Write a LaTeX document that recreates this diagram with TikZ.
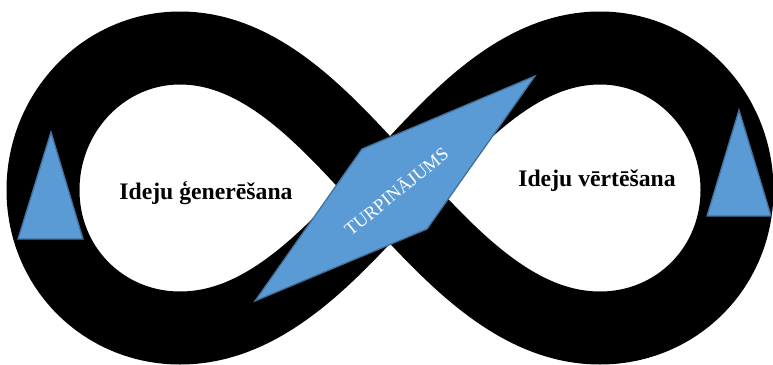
\documentclass[tikz,border=0pt]{standalone}
\usepackage{fontspec}
\setmainfont{Liberation Serif}
\definecolor{shapeblue}{HTML}{5B9BD5}
\definecolor{shapeedge}{HTML}{41719C}
\tikzset{
  band/.style={draw=black, line width=73pt, line join=round},
  blueshape/.style={fill=shapeblue, draw=shapeedge, line width=1.3pt, line join=miter},
  lobelabel/.style={font=\bfseries\fontsize{23.7}{28}\selectfont, text=black, inner sep=0pt},
  midlabel/.style={font=\fontsize{18.5}{22}\selectfont, text=white, inner sep=0pt}
}
\begin{document}
\begin{tikzpicture}[x=1pt, y=-1pt]
\useasboundingbox (0,0) rectangle (773,364);
% infinity band
\draw[band] (390,190) .. controls (450,255) and (515,328) .. (600,328)
  .. controls (676,328) and (737,268) .. (737,190)
  .. controls (737,112) and (676,48) .. (600,48)
  .. controls (515,48) and (450,125) .. (390,190)
  .. controls (330,255) and (265,328) .. (180,328)
  .. controls (104,328) and (43,268) .. (43,190)
  .. controls (43,112) and (104,48) .. (180,48)
  .. controls (265,48) and (330,125) .. cycle;
% triangles
\coordinate (lt1) at (51,132);
\coordinate (lt2) at (18,239);
\coordinate (lt3) at (83,239);
\coordinate (rt1) at (739,110);
\coordinate (rt2) at (707,216);
\coordinate (rt3) at (771,216);
\draw[blueshape] (lt1) -- (lt2) -- (lt3) -- cycle;
\draw[blueshape] (rt1) -- (rt2) -- (rt3) -- cycle;
% parallelogram
\coordinate (p1) at (255,301);
\coordinate (p2) at (362,149);
\coordinate (p3) at (535,76);
\coordinate (p4) at (427,229);
\draw[blueshape] (p1) -- (p2) -- (p3) -- (p4) -- cycle;
\node[midlabel, rotate=39] (turp) at (396,191) {TURPINĀJUMS};
% labels
\node[lobelabel] (gen) at (206,193) {Ideju ģenerēšana};
\node[lobelabel] (vert) at (597,181) {Ideju vērtēšana};
\end{tikzpicture}
\end{document}
